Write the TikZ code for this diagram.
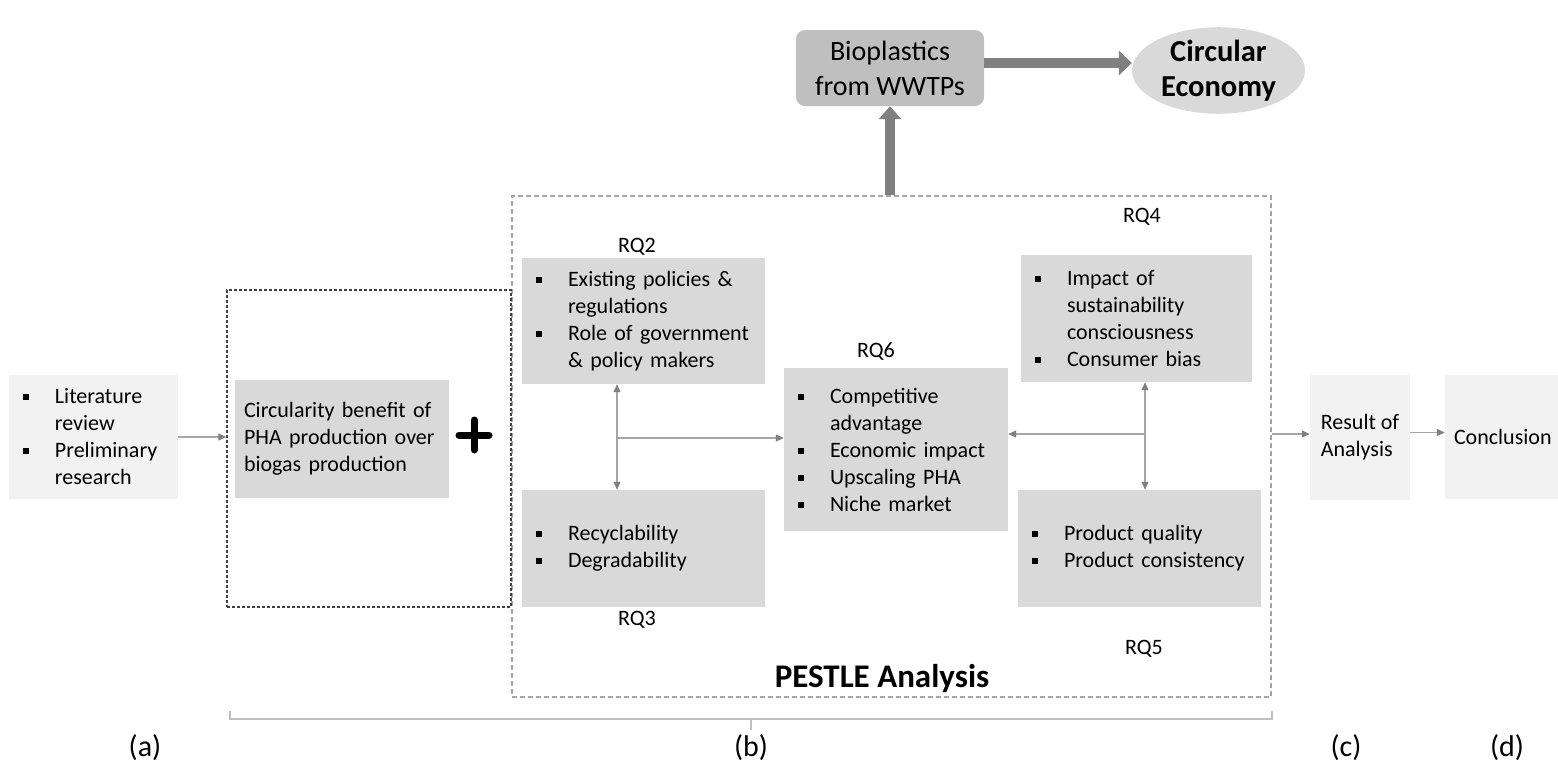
\documentclass[tikz,border=0pt]{standalone}
\usepackage{fontspec}
\setmainfont{Carlito}
\usetikzlibrary{arrows.meta,shapes.geometric}
\definecolor{lightbox}{HTML}{F2F2F2}
\definecolor{midbox}{HTML}{D9D9D9}
\definecolor{darkbox}{HTML}{BFBFBF}
\definecolor{thickarrow}{HTML}{808080}
\definecolor{thinline}{HTML}{A6A6A6}
\definecolor{dashgray}{HTML}{A6A6A6}
\definecolor{dashdark}{HTML}{404040}
\definecolor{bracegray}{HTML}{BFBFBF}
\newcommand{\bitem}{\makebox[32pt][l]{\rule[3.5pt]{6pt}{6pt}}}
\newcommand{\bcont}{\hspace*{32pt}}
\newcommand{\bodyfont}{\fontsize{22}{27}\selectfont}
\begin{document}
\begin{tikzpicture}[x=1pt,y=-1pt,
  every node/.style={text=black},
  gbox/.style={rectangle, fill=#1, draw=none, inner ysep=0pt, inner xsep=14pt, align=left, font=\bodyfont},
  rqlabel/.style={font=\bodyfont, inner sep=0pt},
  thin arrow/.style={draw=thinline, line width=1.2pt, -{Triangle[length=8pt,width=7pt,color=thickarrow,fill=thickarrow]}},
  thin both/.style={draw=thinline, line width=1.2pt, {Triangle[length=8pt,width=7pt,color=thickarrow,fill=thickarrow]}-{Triangle[length=8pt,width=7pt,color=thickarrow,fill=thickarrow]}},
  fat arrow/.style={draw=thickarrow, line width=10pt, -{Triangle[length=13pt,width=24pt]}},
  steplabel/.style={font=\fontsize{30}{34}\selectfont, inner sep=0pt}
]
\useasboundingbox (0,0) rectangle (1558,764);

% dashed frames
\node[draw=dashgray, dash pattern=on 5pt off 3pt, line width=1.3pt, minimum width=759pt, minimum height=501pt, inner sep=0pt] (pestle) at (891.5,446.5) {};
\node[draw=dashdark, dash pattern=on 3pt off 2pt, line width=1.3pt, minimum width=284pt, minimum height=317pt, inner sep=0pt] (lbox) at (369,448.5) {};

% top
\node[gbox=darkbox, rounded corners=9pt, minimum width=188pt, minimum height=76pt, inner xsep=0pt, align=center, font=\fontsize{28}{35}\selectfont] (bio) at (890,68) {Bioplastics\\from WWTPs};
\node[ellipse, fill=midbox, minimum width=173pt, minimum height=85pt, inner sep=0pt, align=center, font=\fontsize{30.5}{35}\selectfont\bfseries] (ell) at (1218.5,70.5) {Circular\\Economy};

% boxes
\node[gbox=lightbox, minimum width=169pt, minimum height=124pt, text width=141pt] (lit) at (93.5,437) {\bitem Literature\\\bcont review\\\bitem Preliminary\\\bcont research};
\node[gbox=midbox, minimum width=214pt, minimum height=118pt, text width=196pt, inner xsep=9pt] (circ) at (342,439) {Circularity benefit of\\PHA production over\\biogas production};
\node[gbox=midbox, minimum width=243pt, minimum height=126pt, text width=215pt] (rq2) at (643.5,321) {\bitem Existing policies \&\\\bcont regulations\\\bitem Role of government\\\bcont \& policy makers};
\node[gbox=midbox, minimum width=243pt, minimum height=117pt, text width=215pt] (rq3) at (643.5,548.5) {\bitem Recyclability\\\bitem Degradability};
\node[gbox=midbox, minimum width=224pt, minimum height=163pt, text width=196pt] (rq6) at (896,449.5) {\bitem Competitive\\\bcont advantage\\\bitem Economic impact\\\bitem Upscaling PHA\\\bitem Niche market};
\node[gbox=midbox, minimum width=231pt, minimum height=127pt, text width=203pt] (rq4) at (1136.5,318.5) {\bitem Impact of\\\bcont sustainability\\\bcont consciousness\\\bitem Consumer bias};
\node[gbox=midbox, minimum width=243pt, minimum height=117pt, text width=215pt] (rq5) at (1139.5,548.5) {\bitem Product quality\\\bitem Product consistency};
\node[gbox=lightbox, minimum width=100pt, minimum height=125pt, inner xsep=0pt] (res) at (1360,437.5) {Result of\\Analysis};
\node[gbox=lightbox, minimum width=113pt, minimum height=124pt, text width=95pt, inner xsep=9pt] (conc) at (1501.5,437) {Conclusion};

% labels
\node[rqlabel] (l2) at (637,247) {RQ2};
\node[rqlabel] (l3) at (637,620) {RQ3};
\node[rqlabel] (l6) at (876,352) {RQ6};
\node[rqlabel] (l4) at (1142,217) {RQ4};
\node[rqlabel] (l5) at (1144,649) {RQ5};
\node[font=\fontsize{33}{38}\selectfont\bfseries, inner sep=0pt] (pest) at (882,679) {PESTLE Analysis};

% plus sign
\draw[line width=7pt, line cap=round] (459,435) -- (489,435) (474,420) -- (474,450);

% connectors
\coordinate (j1) at (617,438);
\coordinate (j2) at (1145,434);
\draw[thin arrow] (lit.east) -- (lit.east -| lbox.west);
\draw[thin both] (j1 |- rq2.south) -- (j1 |- rq3.north);
\draw[thin arrow] (j1) -- (j1 -| rq6.west);
\draw[thin both] (j2 |- rq4.south) -- (j2 |- rq5.north);
\draw[thin arrow] (j2) -- (j2 -| rq6.east);
\draw[thin arrow] (j2 -| pestle.east) -- (j2 -| res.west);
\draw[thin arrow] ([yshift=5pt]res.east) -- ([yshift=5pt]res.east -| conc.west);
\draw[fat arrow, -{Triangle[length=13pt,width=22pt]}] (bio.south |- pestle.north) -- (bio.south);
\draw[fat arrow] ([yshift=5pt]bio.east) -- ([yshift=5pt]bio.east -| ell.west);

% brace
\coordinate (bl) at (230,711);
\coordinate (br) at (1272,711);
\coordinate (bm) at (751,719);
\draw[bracegray, line width=1.2pt] (bl) -- (bl |- bm) -- (br |- bm) -- (br);
\draw[bracegray, line width=1.2pt] (bm) -- ++(0,11);

\node[steplabel] (sa) at (145,748) {(a)};
\node[steplabel] (sb) at (751,748) {(b)};
\node[steplabel] (sc) at (1346,748) {(c)};
\node[steplabel] (sd) at (1507,748) {(d)};
\end{tikzpicture}
\end{document}
